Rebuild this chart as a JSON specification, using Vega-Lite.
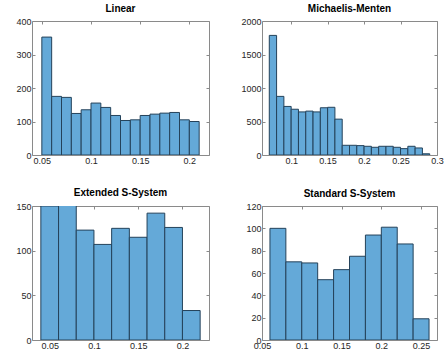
{
  "$schema": "https://vega.github.io/schema/vega-lite/v6.json",
  "padding": {"left": 15, "top": 3, "right": 0, "bottom": 0},
  "background": "white",
  "datasets": {
    "hist": [
      {"panel": "Linear", "start": 0.05, "end": 0.06, "count": 352},
      {"panel": "Linear", "start": 0.06, "end": 0.07, "count": 175},
      {"panel": "Linear", "start": 0.07, "end": 0.08, "count": 172},
      {"panel": "Linear", "start": 0.08, "end": 0.09, "count": 124},
      {"panel": "Linear", "start": 0.09, "end": 0.10, "count": 135},
      {"panel": "Linear", "start": 0.10, "end": 0.11, "count": 155},
      {"panel": "Linear", "start": 0.11, "end": 0.12, "count": 142},
      {"panel": "Linear", "start": 0.12, "end": 0.13, "count": 118},
      {"panel": "Linear", "start": 0.13, "end": 0.14, "count": 103},
      {"panel": "Linear", "start": 0.14, "end": 0.15, "count": 105},
      {"panel": "Linear", "start": 0.15, "end": 0.16, "count": 118},
      {"panel": "Linear", "start": 0.16, "end": 0.17, "count": 122},
      {"panel": "Linear", "start": 0.17, "end": 0.18, "count": 125},
      {"panel": "Linear", "start": 0.18, "end": 0.19, "count": 127},
      {"panel": "Linear", "start": 0.19, "end": 0.20, "count": 105},
      {"panel": "Linear", "start": 0.20, "end": 0.21, "count": 100},
      {"panel": "Michaelis-Menten", "start": 0.07, "end": 0.08, "count": 1785},
      {"panel": "Michaelis-Menten", "start": 0.08, "end": 0.09, "count": 875},
      {"panel": "Michaelis-Menten", "start": 0.09, "end": 0.10, "count": 725},
      {"panel": "Michaelis-Menten", "start": 0.10, "end": 0.11, "count": 683},
      {"panel": "Michaelis-Menten", "start": 0.11, "end": 0.12, "count": 643},
      {"panel": "Michaelis-Menten", "start": 0.12, "end": 0.13, "count": 655},
      {"panel": "Michaelis-Menten", "start": 0.13, "end": 0.14, "count": 643},
      {"panel": "Michaelis-Menten", "start": 0.14, "end": 0.15, "count": 705},
      {"panel": "Michaelis-Menten", "start": 0.15, "end": 0.16, "count": 712},
      {"panel": "Michaelis-Menten", "start": 0.16, "end": 0.17, "count": 535},
      {"panel": "Michaelis-Menten", "start": 0.17, "end": 0.18, "count": 145},
      {"panel": "Michaelis-Menten", "start": 0.18, "end": 0.19, "count": 145},
      {"panel": "Michaelis-Menten", "start": 0.19, "end": 0.20, "count": 140},
      {"panel": "Michaelis-Menten", "start": 0.20, "end": 0.21, "count": 130},
      {"panel": "Michaelis-Menten", "start": 0.21, "end": 0.22, "count": 115},
      {"panel": "Michaelis-Menten", "start": 0.22, "end": 0.23, "count": 130},
      {"panel": "Michaelis-Menten", "start": 0.23, "end": 0.24, "count": 130},
      {"panel": "Michaelis-Menten", "start": 0.24, "end": 0.25, "count": 115},
      {"panel": "Michaelis-Menten", "start": 0.25, "end": 0.26, "count": 95},
      {"panel": "Michaelis-Menten", "start": 0.26, "end": 0.27, "count": 130},
      {"panel": "Michaelis-Menten", "start": 0.27, "end": 0.28, "count": 105},
      {"panel": "Michaelis-Menten", "start": 0.28, "end": 0.29, "count": 18},
      {"panel": "Extended S-System", "start": 0.04, "end": 0.06, "count": 150},
      {"panel": "Extended S-System", "start": 0.06, "end": 0.08, "count": 153},
      {"panel": "Extended S-System", "start": 0.08, "end": 0.10, "count": 123},
      {"panel": "Extended S-System", "start": 0.10, "end": 0.12, "count": 107},
      {"panel": "Extended S-System", "start": 0.12, "end": 0.14, "count": 125},
      {"panel": "Extended S-System", "start": 0.14, "end": 0.16, "count": 115},
      {"panel": "Extended S-System", "start": 0.16, "end": 0.18, "count": 142},
      {"panel": "Extended S-System", "start": 0.18, "end": 0.20, "count": 126},
      {"panel": "Extended S-System", "start": 0.20, "end": 0.22, "count": 33},
      {"panel": "Standard S-System", "start": 0.06, "end": 0.08, "count": 100},
      {"panel": "Standard S-System", "start": 0.08, "end": 0.10, "count": 70},
      {"panel": "Standard S-System", "start": 0.10, "end": 0.12, "count": 69},
      {"panel": "Standard S-System", "start": 0.12, "end": 0.14, "count": 54},
      {"panel": "Standard S-System", "start": 0.14, "end": 0.16, "count": 63},
      {"panel": "Standard S-System", "start": 0.16, "end": 0.18, "count": 75},
      {"panel": "Standard S-System", "start": 0.18, "end": 0.20, "count": 94},
      {"panel": "Standard S-System", "start": 0.20, "end": 0.22, "count": 101},
      {"panel": "Standard S-System", "start": 0.22, "end": 0.24, "count": 86},
      {"panel": "Standard S-System", "start": 0.24, "end": 0.26, "count": 19}
    ]
  },
  "data": {"name": "hist"},
  "columns": 2,
  "spacing": {"column": 30, "row": 21},
  "concat": [
    {
      "title": "Linear",
      "width": 177, "height": 134,
      "transform": [{"filter": "datum.panel === 'Linear'"}],
      "layer": [
        {
          "mark": {"type": "bar", "clip": true, "fill": "#64a9d8", "stroke": "#24425a", "strokeWidth": 1},
          "encoding": {
            "x": {"field": "start", "type": "quantitative", "scale": {"domain": [0.04, 0.22], "nice": false, "zero": false}, "axis": {"title": null, "values": [0.05, 0.1, 0.15, 0.2], "format": "~g"}},
            "x2": {"field": "end"},
            "y": {"field": "count", "type": "quantitative", "scale": {"domain": [0, 400], "nice": false}, "axis": {"title": null, "values": [0, 100, 200, 300, 400], "format": "d"}},
            "y2": {"datum": 0}
          }
        },
        {
          "mark": {"type": "point", "opacity": 0},
          "encoding": {
            "x": {"field": "start", "type": "quantitative", "axis": {"orient": "top", "title": null, "labels": false, "values": [0.05, 0.1, 0.15, 0.2]}},
            "y": {"field": "count", "type": "quantitative", "axis": {"orient": "right", "title": null, "labels": false, "values": [0, 100, 200, 300, 400]}}
          }
        }
      ],
      "resolve": {"axis": {"x": "independent", "y": "independent"}}
    },
    {
      "title": "Michaelis-Menten",
      "width": 175, "height": 134,
      "transform": [{"filter": "datum.panel === 'Michaelis-Menten'"}],
      "layer": [
        {
          "mark": {"type": "bar", "clip": true, "fill": "#64a9d8", "stroke": "#24425a", "strokeWidth": 1},
          "encoding": {
            "x": {"field": "start", "type": "quantitative", "scale": {"domain": [0.06, 0.3], "nice": false, "zero": false}, "axis": {"title": null, "values": [0.1, 0.15, 0.2, 0.25, 0.3], "format": "~g"}},
            "x2": {"field": "end"},
            "y": {"field": "count", "type": "quantitative", "scale": {"domain": [0, 2000], "nice": false}, "axis": {"title": null, "values": [0, 500, 1000, 1500, 2000], "format": "d"}},
            "y2": {"datum": 0}
          }
        },
        {
          "mark": {"type": "point", "opacity": 0},
          "encoding": {
            "x": {"field": "start", "type": "quantitative", "axis": {"orient": "top", "title": null, "labels": false, "values": [0.1, 0.15, 0.2, 0.25, 0.3]}},
            "y": {"field": "count", "type": "quantitative", "axis": {"orient": "right", "title": null, "labels": false, "values": [0, 500, 1000, 1500, 2000]}}
          }
        }
      ],
      "resolve": {"axis": {"x": "independent", "y": "independent"}}
    },
    {
      "title": "Extended S-System",
      "width": 177, "height": 134,
      "transform": [{"filter": "datum.panel === 'Extended S-System'"}],
      "layer": [
        {
          "mark": {"type": "bar", "clip": true, "fill": "#64a9d8", "stroke": "#24425a", "strokeWidth": 1},
          "encoding": {
            "x": {"field": "start", "type": "quantitative", "scale": {"domain": [0.03, 0.23], "nice": false, "zero": false}, "axis": {"title": null, "values": [0.05, 0.1, 0.15, 0.2], "format": "~g"}},
            "x2": {"field": "end"},
            "y": {"field": "count", "type": "quantitative", "scale": {"domain": [0, 150], "nice": false}, "axis": {"title": null, "values": [0, 50, 100, 150], "format": "d"}},
            "y2": {"datum": 0}
          }
        },
        {
          "mark": {"type": "point", "opacity": 0},
          "encoding": {
            "x": {"field": "start", "type": "quantitative", "axis": {"orient": "top", "title": null, "labels": false, "values": [0.05, 0.1, 0.15, 0.2]}},
            "y": {"field": "count", "type": "quantitative", "axis": {"orient": "right", "title": null, "labels": false, "values": [0, 50, 100, 150]}}
          }
        }
      ],
      "resolve": {"axis": {"x": "independent", "y": "independent"}}
    },
    {
      "title": "Standard S-System",
      "width": 175, "height": 134,
      "transform": [{"filter": "datum.panel === 'Standard S-System'"}],
      "layer": [
        {
          "mark": {"type": "bar", "clip": true, "fill": "#64a9d8", "stroke": "#24425a", "strokeWidth": 1},
          "encoding": {
            "x": {"field": "start", "type": "quantitative", "scale": {"domain": [0.05, 0.27], "nice": false, "zero": false}, "axis": {"title": null, "values": [0.05, 0.1, 0.15, 0.2, 0.25], "format": "~g"}},
            "x2": {"field": "end"},
            "y": {"field": "count", "type": "quantitative", "scale": {"domain": [0, 120], "nice": false}, "axis": {"title": null, "values": [0, 20, 40, 60, 80, 100, 120], "format": "d"}},
            "y2": {"datum": 0}
          }
        },
        {
          "mark": {"type": "point", "opacity": 0},
          "encoding": {
            "x": {"field": "start", "type": "quantitative", "axis": {"orient": "top", "title": null, "labels": false, "values": [0.05, 0.1, 0.15, 0.2, 0.25]}},
            "y": {"field": "count", "type": "quantitative", "axis": {"orient": "right", "title": null, "labels": false, "values": [0, 20, 40, 60, 80, 100, 120]}}
          }
        }
      ],
      "resolve": {"axis": {"x": "independent", "y": "independent"}}
    }
  ],
  "config": {
    "view": {"stroke": "#8a8a8a", "strokeWidth": 1},
    "axis": {
      "domain": false,
      "grid": false,
      "tickColor": "#8a8a8a",
      "tickSize": -3,
      "labelPadding": 4,
      "labelFlush": false,
      "labelOverlap": false,
      "labelFont": "Liberation Sans",
      "labelFontSize": 9,
      "labelColor": "#262626"
    },
    "title": {"font": "Liberation Sans", "fontSize": 10, "fontWeight": "bold", "color": "#000000", "offset": 3}
  }
}
